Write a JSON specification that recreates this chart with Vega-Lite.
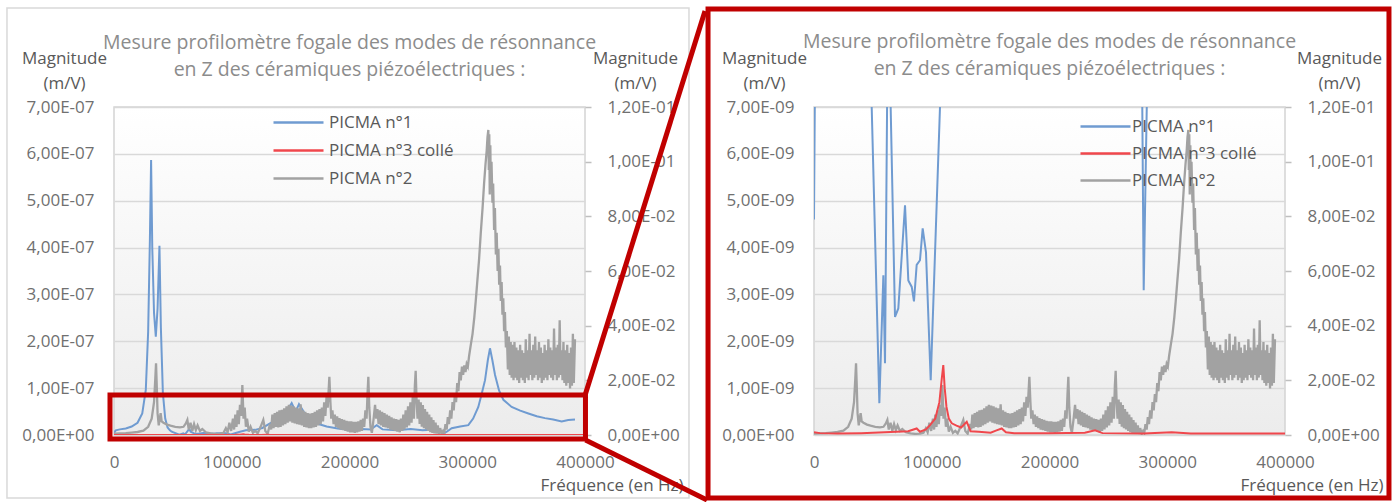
{
"$schema": "https://vega.github.io/schema/vega-lite/v6.json",
"autosize": "none",
"padding": {"left": 114, "top": 107, "right": 1282, "bottom": 395},
"spacing": 229,
"bounds": "flush",
"datasets": {
"blue": [{"f":0,"v":4.6e-9},{"f":1500,"v":1.0e-8},{"f":5000,"v":1.2e-8},{"f":10000,"v":1.4e-8},{"f":15000,"v":1.8e-8},{"f":20000,"v":2.6e-8},{"f":24000,"v":4.6e-8},{"f":27000,"v":9.6e-8},{"f":29000,"v":2.2e-7},{"f":30500,"v":4.2e-7},{"f":31500,"v":5.87e-7},{"f":32500,"v":4.0e-7},{"f":34000,"v":2.6e-7},{"f":35500,"v":2.1e-7},{"f":37000,"v":2.7e-7},{"f":38600,"v":4.04e-7},{"f":39800,"v":2.3e-7},{"f":41500,"v":9e-8},{"f":43500,"v":3.5e-8},{"f":45500,"v":1.6e-8},{"f":47500,"v":1.0e-8},{"f":49000,"v":7.0e-9},{"f":55500,"v":6.8e-10},{"f":58900,"v":3.41e-9},{"f":60300,"v":1.53e-9},{"f":64000,"v":1.3e-8},{"f":65100,"v":7.0e-9},{"f":68800,"v":2.52e-9},{"f":71600,"v":2.7e-9},{"f":77300,"v":4.9e-9},{"f":80100,"v":3.3e-9},{"f":83000,"v":3.16e-9},{"f":84900,"v":2.85e-9},{"f":87200,"v":3.63e-9},{"f":90000,"v":3.73e-9},{"f":92300,"v":4.41e-9},{"f":95100,"v":3.9e-9},{"f":99100,"v":1.17e-9},{"f":107000,"v":7.0e-9},{"f":112000,"v":1.0e-8},{"f":120000,"v":1.1e-8},{"f":126000,"v":1.5e-8},{"f":132500,"v":2.5e-8},{"f":138000,"v":3.2e-8},{"f":143800,"v":3.9e-8},{"f":150900,"v":6.8e-8},{"f":154300,"v":5.0e-8},{"f":157100,"v":6.6e-8},{"f":161000,"v":5.0e-8},{"f":166500,"v":3.2e-8},{"f":173000,"v":2.4e-8},{"f":180600,"v":1.8e-8},{"f":190000,"v":1.4e-8},{"f":200400,"v":1.1e-8},{"f":210000,"v":1.3e-8},{"f":218000,"v":1.2e-8},{"f":223100,"v":2.1e-8},{"f":228000,"v":1.2e-8},{"f":240000,"v":1.0e-8},{"f":252000,"v":1.3e-8},{"f":262000,"v":1.0e-8},{"f":270000,"v":1.1e-8},{"f":276000,"v":9e-9},{"f":278800,"v":7e-9},{"f":280000,"v":3.09e-9},{"f":282600,"v":7e-9},{"f":286800,"v":1.43e-8},{"f":294000,"v":1.8e-8},{"f":300900,"v":2.1e-8},{"f":305000,"v":3.5e-8},{"f":309400,"v":6e-8},{"f":312500,"v":9e-8},{"f":315100,"v":1.17e-7},{"f":317500,"v":1.6e-7},{"f":319300,"v":1.85e-7},{"f":321300,"v":1.6e-7},{"f":323600,"v":1.28e-7},{"f":327000,"v":9.5e-8},{"f":330700,"v":7.5e-8},{"f":337700,"v":6e-8},{"f":345000,"v":5.2e-8},{"f":351900,"v":4.6e-8},{"f":359000,"v":4.0e-8},{"f":366000,"v":3.6e-8},{"f":373000,"v":3.3e-8},{"f":380200,"v":2.9e-8},{"f":385800,"v":3.2e-8},{"f":391500,"v":3.3e-8}],
"red": [{"f":0,"v":6e-11},{"f":5000,"v":4e-11},{"f":20000,"v":3e-11},{"f":40000,"v":4e-11},{"f":60000,"v":6e-11},{"f":80000,"v":8e-11},{"f":87200,"v":1.4e-10},{"f":90000,"v":7e-11},{"f":95000,"v":1.2e-10},{"f":98500,"v":2.1e-10},{"f":103000,"v":3.5e-10},{"f":106500,"v":7e-10},{"f":108500,"v":1.2e-9},{"f":109800,"v":1.49e-9},{"f":111000,"v":1.0e-9},{"f":112500,"v":6e-10},{"f":114500,"v":3.5e-10},{"f":117000,"v":2.5e-10},{"f":121000,"v":2e-10},{"f":125000,"v":1.6e-10},{"f":129700,"v":2.8e-10},{"f":133000,"v":8e-11},{"f":140000,"v":7e-11},{"f":150000,"v":5e-11},{"f":155000,"v":1e-10},{"f":159400,"v":1.4e-10},{"f":163000,"v":6e-11},{"f":170000,"v":4e-11},{"f":200000,"v":4e-11},{"f":230000,"v":5e-11},{"f":238700,"v":1.0e-10},{"f":245000,"v":4e-11},{"f":280000,"v":3e-11},{"f":303800,"v":6e-11},{"f":320000,"v":3e-11},{"f":400000,"v":3e-11}],
"gray": [{"f":0,"v":0.0005},{"f":5000,"v":0.0006},{"f":10000,"v":0.0007},{"f":15000,"v":0.0009},{"f":20000,"v":0.0011},{"f":25000,"v":0.0016},{"f":29000,"v":0.003},{"f":32000,"v":0.006},{"f":34000,"v":0.012},{"f":35000,"v":0.02},{"f":35700,"v":0.0262},{"f":36300,"v":0.018},{"f":37000,"v":0.008},{"f":38000,"v":0.0035},{"f":39600,"v":0.008},{"f":40500,"v":0.005},{"f":42000,"v":0.0045},{"f":45000,"v":0.0038},{"f":48000,"v":0.0034},{"f":52000,"v":0.003},{"f":56000,"v":0.0028},{"f":59000,"v":0.003},{"f":61000,"v":0.0042},{"f":62300,"v":0.0055},{"f":63500,"v":0.002},{"f":65000,"v":0.0045},{"f":66500,"v":0.0015},{"f":68000,"v":0.004},{"f":69500,"v":0.0018},{"f":71000,"v":0.0035},{"f":73000,"v":0.0015},{"f":75000,"v":0.0022},{"f":78000,"v":0.001},{"f":82000,"v":0.0006},{"f":86000,"v":0.0004},{"f":90000,"v":0.0005},{"f":93000,"v":0.0008},{"f":95000,"v":0.0025},{"f":96500,"v":0.001},{"f":98000,"v":0.0045},{"f":99500,"v":0.0015},{"f":101000,"v":0.006},{"f":102000,"v":0.002},{"f":103000,"v":0.0075},{"f":104000,"v":0.003},{"f":105000,"v":0.009},{"f":106000,"v":0.004},{"f":107000,"v":0.011},{"f":108000,"v":0.007},{"f":109000,"v":0.0183},{"f":110000,"v":0.006},{"f":111000,"v":0.01},{"f":112000,"v":0.003},{"f":113000,"v":0.006},{"f":114500,"v":0.0012},{"f":116000,"v":0.003},{"f":118000,"v":0.0008},{"f":120000,"v":0.0015},{"f":122000,"v":0.0006},{"f":124500,"v":0.003},{"f":126800,"v":0.0055},{"f":128500,"v":0.0015},{"f":130500,"v":0.0005},{"f":132500,"v":0.004},{"f":133500,"v":0.002},{"f":134500,"v":0.0075},{"f":135500,"v":0.0025},{"f":136500,"v":0.008},{"f":137500,"v":0.003},{"f":138500,"v":0.0085},{"f":139500,"v":0.0028},{"f":140500,"v":0.009},{"f":141500,"v":0.003},{"f":142500,"v":0.0092},{"f":143500,"v":0.0035},{"f":144500,"v":0.0098},{"f":145500,"v":0.004},{"f":146500,"v":0.0105},{"f":147500,"v":0.0045},{"f":148500,"v":0.011},{"f":149500,"v":0.005},{"f":150500,"v":0.0108},{"f":151500,"v":0.0045},{"f":152500,"v":0.0105},{"f":153500,"v":0.0042},{"f":154500,"v":0.01},{"f":155500,"v":0.004},{"f":156500,"v":0.0098},{"f":157500,"v":0.0038},{"f":158500,"v":0.0112},{"f":159500,"v":0.0035},{"f":160500,"v":0.009},{"f":161500,"v":0.003},{"f":162500,"v":0.0085},{"f":163500,"v":0.0028},{"f":164500,"v":0.008},{"f":165500,"v":0.0025},{"f":166500,"v":0.0078},{"f":167500,"v":0.0025},{"f":168500,"v":0.008},{"f":169500,"v":0.0028},{"f":170500,"v":0.0085},{"f":171500,"v":0.003},{"f":172500,"v":0.009},{"f":173500,"v":0.0035},{"f":174500,"v":0.0095},{"f":175500,"v":0.004},{"f":176500,"v":0.01},{"f":177500,"v":0.005},{"f":178500,"v":0.012},{"f":179500,"v":0.007},{"f":180500,"v":0.014},{"f":181500,"v":0.01},{"f":182900,"v":0.0213},{"f":183800,"v":0.012},{"f":184500,"v":0.006},{"f":185500,"v":0.009},{"f":186500,"v":0.004},{"f":187500,"v":0.0075},{"f":188500,"v":0.003},{"f":189500,"v":0.0068},{"f":190500,"v":0.0025},{"f":191500,"v":0.0062},{"f":192500,"v":0.002},{"f":193500,"v":0.0058},{"f":194500,"v":0.0018},{"f":195500,"v":0.0055},{"f":196500,"v":0.0015},{"f":197500,"v":0.0052},{"f":198500,"v":0.0012},{"f":199500,"v":0.005},{"f":200500,"v":0.001},{"f":201500,"v":0.005},{"f":202500,"v":0.001},{"f":203500,"v":0.0048},{"f":204500,"v":0.0008},{"f":205500,"v":0.0048},{"f":206500,"v":0.001},{"f":207500,"v":0.005},{"f":208500,"v":0.0012},{"f":209500,"v":0.0055},{"f":210500,"v":0.0015},{"f":211500,"v":0.006},{"f":212500,"v":0.003},{"f":213500,"v":0.009},{"f":214500,"v":0.006},{"f":215300,"v":0.015},{"f":216000,"v":0.0213},{"f":216800,"v":0.01},{"f":217800,"v":0.003},{"f":219000,"v":0.0008},{"f":220500,"v":0.006},{"f":221700,"v":0.011},{"f":222700,"v":0.006},{"f":223700,"v":0.0095},{"f":224700,"v":0.004},{"f":225700,"v":0.009},{"f":226700,"v":0.0035},{"f":227700,"v":0.0085},{"f":228700,"v":0.003},{"f":229700,"v":0.008},{"f":230700,"v":0.0028},{"f":231700,"v":0.0075},{"f":232700,"v":0.0025},{"f":233700,"v":0.007},{"f":234700,"v":0.002},{"f":235700,"v":0.0065},{"f":236700,"v":0.0018},{"f":237700,"v":0.006},{"f":238700,"v":0.0015},{"f":239700,"v":0.0058},{"f":240700,"v":0.0012},{"f":241700,"v":0.0055},{"f":242700,"v":0.001},{"f":243700,"v":0.006},{"f":244700,"v":0.0015},{"f":245700,"v":0.0075},{"f":246700,"v":0.002},{"f":247700,"v":0.009},{"f":248700,"v":0.0028},{"f":249700,"v":0.0105},{"f":250700,"v":0.0035},{"f":251700,"v":0.012},{"f":252700,"v":0.0045},{"f":253700,"v":0.014},{"f":254700,"v":0.006},{"f":255500,"v":0.018},{"f":256200,"v":0.0235},{"f":257000,"v":0.012},{"f":257800,"v":0.006},{"f":258700,"v":0.013},{"f":259600,"v":0.004},{"f":260500,"v":0.012},{"f":261400,"v":0.003},{"f":262300,"v":0.011},{"f":263200,"v":0.0025},{"f":264100,"v":0.0095},{"f":265000,"v":0.002},{"f":265900,"v":0.0085},{"f":266800,"v":0.0015},{"f":267700,"v":0.0075},{"f":268600,"v":0.001},{"f":269500,"v":0.0065},{"f":270400,"v":0.0008},{"f":271300,"v":0.0055},{"f":272200,"v":0.0006},{"f":273100,"v":0.0045},{"f":274000,"v":0.0005},{"f":275000,"v":0.0035},{"f":276000,"v":0.0004},{"f":277000,"v":0.0025},{"f":278300,"v":0.0004},{"f":279500,"v":0.0015},{"f":280500,"v":0.0008},{"f":281500,"v":0.004},{"f":282500,"v":0.002},{"f":283500,"v":0.0065},{"f":284500,"v":0.004},{"f":285500,"v":0.009},{"f":286500,"v":0.006},{"f":287500,"v":0.012},{"f":288500,"v":0.009},{"f":289500,"v":0.015},{"f":290500,"v":0.012},{"f":291500,"v":0.019},{"f":292500,"v":0.016},{"f":293500,"v":0.023},{"f":294500,"v":0.02},{"f":295500,"v":0.025},{"f":296500,"v":0.022},{"f":297500,"v":0.0255},{"f":298500,"v":0.023},{"f":299500,"v":0.026},{"f":300500,"v":0.025},{"f":301600,"v":0.029},{"f":303000,"v":0.033},{"f":304500,"v":0.037},{"f":306000,"v":0.043},{"f":307200,"v":0.049},{"f":308500,"v":0.056},{"f":310000,"v":0.064},{"f":311500,"v":0.074},{"f":313000,"v":0.083},{"f":314300,"v":0.092},{"f":315500,"v":0.099},{"f":316500,"v":0.104},{"f":317200,"v":0.109},{"f":317900,"v":0.1116},{"f":318300,"v":0.097},{"f":318700,"v":0.11},{"f":319100,"v":0.088},{"f":319600,"v":0.106},{"f":320000,"v":0.09},{"f":320600,"v":0.1},{"f":321400,"v":0.085},{"f":322000,"v":0.092},{"f":322800,"v":0.075},{"f":323500,"v":0.083},{"f":324300,"v":0.066},{"f":325000,"v":0.074},{"f":325800,"v":0.06},{"f":326500,"v":0.068},{"f":327100,"v":0.055},{"f":327800,"v":0.062},{"f":328500,"v":0.049},{"f":329200,"v":0.056},{"f":329900,"v":0.044},{"f":330600,"v":0.05},{"f":331300,"v":0.038},{"f":332000,"v":0.045},{"f":332800,"v":0.032},{"f":333600,"v":0.038},{"f":334500,"v":0.024},{"f":335300,"v":0.036},{"f":336100,"v":0.022},{"f":336900,"v":0.034},{"f":337700,"v":0.021},{"f":338500,"v":0.033},{"f":339300,"v":0.02},{"f":340100,"v":0.034},{"f":340900,"v":0.021},{"f":341700,"v":0.032},{"f":342500,"v":0.02},{"f":343300,"v":0.031},{"f":344100,"v":0.019},{"f":344900,"v":0.033},{"f":345700,"v":0.021},{"f":346500,"v":0.031},{"f":347300,"v":0.02},{"f":348100,"v":0.03},{"f":348900,"v":0.019},{"f":349700,"v":0.035},{"f":350500,"v":0.021},{"f":351300,"v":0.031},{"f":352100,"v":0.02},{"f":352900,"v":0.037},{"f":353700,"v":0.022},{"f":354500,"v":0.031},{"f":355300,"v":0.02},{"f":356100,"v":0.033},{"f":356900,"v":0.021},{"f":357700,"v":0.036},{"f":358500,"v":0.022},{"f":359300,"v":0.031},{"f":360100,"v":0.02},{"f":360900,"v":0.034},{"f":361700,"v":0.021},{"f":362500,"v":0.032},{"f":363300,"v":0.019},{"f":364100,"v":0.03},{"f":364900,"v":0.02},{"f":365700,"v":0.033},{"f":366500,"v":0.021},{"f":367300,"v":0.031},{"f":368100,"v":0.02},{"f":368900,"v":0.035},{"f":369700,"v":0.022},{"f":370500,"v":0.032},{"f":371300,"v":0.021},{"f":372100,"v":0.031},{"f":372900,"v":0.02},{"f":373700,"v":0.039},{"f":374500,"v":0.022},{"f":375300,"v":0.032},{"f":376100,"v":0.02},{"f":376900,"v":0.033},{"f":377700,"v":0.021},{"f":378500,"v":0.042},{"f":379300,"v":0.022},{"f":380100,"v":0.031},{"f":380900,"v":0.02},{"f":381700,"v":0.034},{"f":382500,"v":0.019},{"f":383300,"v":0.031},{"f":384100,"v":0.018},{"f":384900,"v":0.033},{"f":385700,"v":0.019},{"f":386500,"v":0.03},{"f":387300,"v":0.017},{"f":388100,"v":0.032},{"f":388900,"v":0.018},{"f":389700,"v":0.037},{"f":390500,"v":0.019},{"f":391500,"v":0.035}]
},
"hconcat": [
{
"width": 471, "height": 328,
"view": {"fill": {"gradient": "linear", "x1": 0, "y1": 0, "x2": 0, "y2": 1, "stops": [{"offset": 0, "color": "#ffffff"}, {"offset": 1, "color": "#ececec"}]}, "stroke": "#d4d4d4", "strokeWidth": 1.5},
"title": {"text": ["Mesure profilomètre fogale des modes de résonnance", "en Z des céramiques piézoélectriques  :"], "anchor": "middle", "offset": -73},
"layer": [
  {"data": {"name": "blue"},
   "mark": {"type": "line", "strokeWidth": 2, "clip": true},
   "encoding": {
    "x": {"field": "f", "type": "quantitative", "scale": {"domain": [0, 400000], "nice": false}, "axis": {"title": "Fréquence (en Hz)", "values": [0, 100000, 200000, 300000, 400000], "format": "d", "labelFlush": false, "labelOverlap": false, "labelPadding": 19, "grid": false, "titleX": 569, "titleY": 50, "titleAlign": "right", "titleBaseline": "middle"}},
    "y": {"field": "v", "type": "quantitative", "scale": {"domain": [0, 7e-7], "nice": false}, "axis": {"title": ["Magnitude", "(m/V)"], "values": [0, 1e-7, 2e-7, 3e-7, 4e-7, 5e-7, 6e-7, 7e-7], "labelExpr": "replace(replace(replace(upper(format(datum.value, '.2e')), '.', ','), 'E-', 'E-0'), 'E+', 'E+0')", "grid": true, "labelPadding": 20, "titleAngle": 0, "titleX": -50, "titleY": -49, "titleAlign": "center", "titleBaseline": "middle", "titleLineHeight": 25}},
    "color": {"datum": "PICMA n°1", "type": "nominal", "scale": {"domain": ["PICMA n°1", "PICMA n°3 collé", "PICMA n°2"], "range": ["#6f9bd1", "#f0474c", "#a2a2a2"]}, "legend": {"title": null, "orient": "none", "legendX": 173, "legendY": 4, "symbolType": "M-2.5,0H2.5", "symbolSize": 400, "symbolStrokeWidth": 2.5, "labelOffset": 19, "rowPadding": 8, "padding": 0}}
   }},
  {"data": {"name": "gray"},
   "mark": {"type": "line", "strokeWidth": 2.3, "clip": true},
   "encoding": {
    "x": {"field": "f", "type": "quantitative", "scale": {"domain": [0, 400000], "nice": false}},
    "y": {"field": "v", "type": "quantitative", "scale": {"domain": [0, 0.12], "nice": false}, "axis": {"orient": "right", "title": ["Magnitude", "(m/V)"], "values": [0, 0.02, 0.04, 0.06, 0.08, 0.1, 0.12], "labelExpr": "replace(replace(replace(upper(format(datum.value, '.2e')), '.', ','), 'E-', 'E-0'), 'E+', 'E+0')", "grid": false, "ticks": true, "tickSize": 6, "tickColor": "#bfbfbf", "tickWidth": 1.5, "labelPadding": 16, "titleAngle": 0, "titleX": 50, "titleY": -49, "titleAlign": "center", "titleBaseline": "middle", "titleLineHeight": 25}},
    "color": {"datum": "PICMA n°2", "type": "nominal", "scale": {"domain": ["PICMA n°1", "PICMA n°3 collé", "PICMA n°2"], "range": ["#6f9bd1", "#f0474c", "#a2a2a2"]}, "legend": {"title": null, "orient": "none", "legendX": 173, "legendY": 4, "symbolType": "M-2.5,0H2.5", "symbolSize": 400, "symbolStrokeWidth": 2.5, "labelOffset": 19, "rowPadding": 8, "padding": 0}}
   }},
  {"data": {"name": "red"},
   "mark": {"type": "line", "strokeWidth": 2, "clip": true},
   "encoding": {
    "x": {"field": "f", "type": "quantitative", "scale": {"domain": [0, 400000], "nice": false}},
    "y": {"field": "v", "type": "quantitative", "scale": {"domain": [0, 7e-7], "nice": false}, "axis": null},
    "color": {"datum": "PICMA n°3 collé", "type": "nominal", "scale": {"domain": ["PICMA n°1", "PICMA n°3 collé", "PICMA n°2"], "range": ["#6f9bd1", "#f0474c", "#a2a2a2"]}, "legend": {"title": null, "orient": "none", "legendX": 173, "legendY": 4, "symbolType": "M-2.5,0H2.5", "symbolSize": 400, "symbolStrokeWidth": 2.5, "labelOffset": 19, "rowPadding": 8, "padding": 0}}
   }},
  {"data": {"values": [{}]},
   "mark": {"type": "rect", "filled": false, "stroke": "#d9d9d9", "strokeWidth": 1.5, "clip": false},
   "encoding": {"x": {"datum": -90900, "type": "quantitative", "scale": {"domain": [0, 400000], "nice": false}}, "x2": {"datum": 488300}, "y": {"datum": 9.113e-7, "type": "quantitative", "scale": {"domain": [0, 7e-7], "nice": false}, "axis": null}, "y2": {"datum": -1.345e-7}}},
  {"data": {"values": [{}]},
   "mark": {"type": "rect", "filled": false, "stroke": "#c00000", "strokeWidth": 5, "clip": false},
   "encoding": {"x": {"datum": -3400, "type": "quantitative", "scale": {"domain": [0, 400000], "nice": false}}, "x2": {"datum": 400400}, "y": {"datum": 8.54e-8, "type": "quantitative", "scale": {"domain": [0, 7e-7], "nice": false}, "axis": null}, "y2": {"datum": -8.5e-9}}},
  {"data": {"values": [{}]},
   "mark": {"type": "rule", "color": "#c00000", "strokeWidth": 5, "clip": false},
   "encoding": {"x": {"datum": 400400, "type": "quantitative", "scale": {"domain": [0, 400000], "nice": false}}, "x2": {"datum": 501900}, "y": {"datum": 8.75e-8, "type": "quantitative", "scale": {"domain": [0, 7e-7], "nice": false}, "axis": null}, "y2": {"datum": 9.048e-7}}},
  {"data": {"values": [{}]},
   "mark": {"type": "rule", "color": "#c00000", "strokeWidth": 5, "clip": false},
   "encoding": {"x": {"datum": 400400, "type": "quantitative", "scale": {"domain": [0, 400000], "nice": false}}, "x2": {"datum": 503600}, "y": {"datum": -1.067e-8, "type": "quantitative", "scale": {"domain": [0, 7e-7], "nice": false}, "axis": null}, "y2": {"datum": -1.387e-7}}}
],
"resolve": {"scale": {"y": "independent"}}
},
{
"width": 471, "height": 328,
"view": {"fill": {"gradient": "linear", "x1": 0, "y1": 0, "x2": 0, "y2": 1, "stops": [{"offset": 0, "color": "#ffffff"}, {"offset": 1, "color": "#ececec"}]}, "stroke": "#d4d4d4", "strokeWidth": 1.5},
"title": {"text": ["Mesure profilomètre fogale des modes de résonnance", "en Z des céramiques piézoélectriques  :"], "anchor": "middle", "offset": -73},
"layer": [
  {"data": {"name": "blue"},
   "mark": {"type": "line", "strokeWidth": 2, "clip": true},
   "encoding": {
    "x": {"field": "f", "type": "quantitative", "scale": {"domain": [0, 400000], "nice": false}, "axis": {"title": "Fréquence (en Hz)", "values": [0, 100000, 200000, 300000, 400000], "format": "d", "labelFlush": false, "labelOverlap": false, "labelPadding": 19, "grid": false, "titleX": 569, "titleY": 50, "titleAlign": "right", "titleBaseline": "middle"}},
    "y": {"field": "v", "type": "quantitative", "scale": {"domain": [0, 7e-9], "nice": false}, "axis": {"title": ["Magnitude", "(m/V)"], "values": [0, 1e-9, 2e-9, 3e-9, 4e-9, 5e-9, 6e-9, 7e-9], "labelExpr": "replace(replace(replace(upper(format(datum.value, '.2e')), '.', ','), 'E-', 'E-0'), 'E+', 'E+0')", "grid": true, "labelPadding": 20, "titleAngle": 0, "titleX": -50, "titleY": -49, "titleAlign": "center", "titleBaseline": "middle", "titleLineHeight": 25}},
    "color": {"datum": "PICMA n°1", "type": "nominal", "scale": {"domain": ["PICMA n°1", "PICMA n°3 collé", "PICMA n°2"], "range": ["#6f9bd1", "#f0474c", "#a2a2a2"]}, "legend": {"title": null, "orient": "none", "legendX": 280, "legendY": 8, "symbolType": "M-2.5,0H2.5", "symbolSize": 400, "symbolStrokeWidth": 2.5, "labelOffset": 15, "rowPadding": 7, "padding": 0}}
   }},
  {"data": {"name": "gray"},
   "mark": {"type": "line", "strokeWidth": 2.3, "clip": true},
   "encoding": {
    "x": {"field": "f", "type": "quantitative", "scale": {"domain": [0, 400000], "nice": false}},
    "y": {"field": "v", "type": "quantitative", "scale": {"domain": [0, 0.12], "nice": false}, "axis": {"orient": "right", "title": ["Magnitude", "(m/V)"], "values": [0, 0.02, 0.04, 0.06, 0.08, 0.1, 0.12], "labelExpr": "replace(replace(replace(upper(format(datum.value, '.2e')), '.', ','), 'E-', 'E-0'), 'E+', 'E+0')", "grid": false, "ticks": true, "tickSize": 6, "tickColor": "#bfbfbf", "tickWidth": 1.5, "labelPadding": 16, "titleAngle": 0, "titleX": 54, "titleY": -49, "titleAlign": "center", "titleBaseline": "middle", "titleLineHeight": 25}},
    "color": {"datum": "PICMA n°2", "type": "nominal", "scale": {"domain": ["PICMA n°1", "PICMA n°3 collé", "PICMA n°2"], "range": ["#6f9bd1", "#f0474c", "#a2a2a2"]}, "legend": {"title": null, "orient": "none", "legendX": 280, "legendY": 8, "symbolType": "M-2.5,0H2.5", "symbolSize": 400, "symbolStrokeWidth": 2.5, "labelOffset": 15, "rowPadding": 7, "padding": 0}}
   }},
  {"data": {"name": "red"},
   "mark": {"type": "line", "strokeWidth": 2, "clip": true},
   "encoding": {
    "x": {"field": "f", "type": "quantitative", "scale": {"domain": [0, 400000], "nice": false}},
    "y": {"field": "v", "type": "quantitative", "scale": {"domain": [0, 7e-9], "nice": false}, "axis": null},
    "color": {"datum": "PICMA n°3 collé", "type": "nominal", "scale": {"domain": ["PICMA n°1", "PICMA n°3 collé", "PICMA n°2"], "range": ["#6f9bd1", "#f0474c", "#a2a2a2"]}, "legend": {"title": null, "orient": "none", "legendX": 280, "legendY": 8, "symbolType": "M-2.5,0H2.5", "symbolSize": 400, "symbolStrokeWidth": 2.5, "labelOffset": 15, "rowPadding": 7, "padding": 0}}
   }},
  {"data": {"values": [{}]},
   "mark": {"type": "rect", "filled": false, "stroke": "#c00000", "strokeWidth": 5, "clip": false},
   "encoding": {"x": {"datum": -90000, "type": "quantitative", "scale": {"domain": [0, 400000], "nice": false}}, "x2": {"datum": 488300}, "y": {"datum": 9.091e-9, "type": "quantitative", "scale": {"domain": [0, 7e-9], "nice": false}, "axis": null}, "y2": {"datum": -1.345e-9}}}
],
"resolve": {"scale": {"y": "independent"}}
}
],
"resolve": {"scale": {"color": "independent"}, "legend": {"color": "independent"}},
"config": {
 "font": "Open Sans",
 "axis": {"labelFont": "Open Sans", "labelFontSize": 17, "labelColor": "#707070", "titleFont": "Open Sans", "titleFontSize": 17, "titleFontWeight": "normal", "titleColor": "#595959", "gridColor": "#d9d9d9", "gridWidth": 1.5, "domain": false, "ticks": false, "tickSize": 0},
 "legend": {"labelFont": "Open Sans", "labelFontSize": 17, "labelColor": "#595959"},
 "title": {"font": "Open Sans", "fontSize": 19.5, "fontWeight": "normal", "color": "#8c8c8c", "lineHeight": 27}
}
}
